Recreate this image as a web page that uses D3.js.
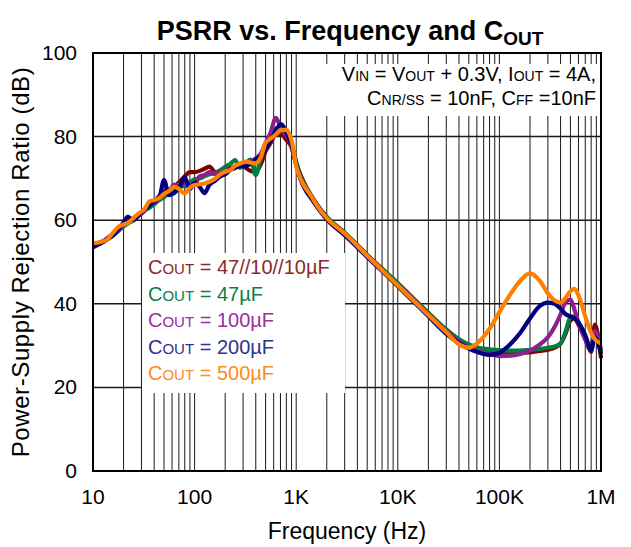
<!DOCTYPE html>
<html lang="en">
<head>
  <meta charset="UTF-8">
  <title>PSRR vs. Frequency and COUT</title>
  <script src="https://d3js.org/d3.v7.min.js"></script>
  <style>
    body { margin: 0; background: #fff; }
    svg { font-family: "Liberation Sans", Arial, sans-serif; }
  </style>
</head>
<body>
  <div id="chart"></div>
  <script>
    // frequency points (Hz), shared by every curve
    const FREQ = [10, 12, 14, 16, 18, 20, 22, 25, 28, 32,
      36, 40, 45, 50, 56, 63, 70, 80, 90, 100,
      112, 125, 140, 160, 180, 200, 225, 250, 280, 315,
      355, 400, 450, 500, 560, 630, 710, 800, 900, 1000,
      1120, 1250, 1400, 1600, 2000, 3000, 5000, 10000, 20000, 30000,
      40000, 50000, 60000, 80000, 100000, 130000, 160000, 200000, 250000, 300000,
      350000, 400000, 450000, 500000, 550000, 600000, 700000, 800000, 870000, 1000000];

    // PSRR (dB)
    const DB_47_10_10 = [54, 54.5, 55.6, 56.8, 57.8, 58.8, 59.6, 60.4, 61.3, 62.5,
      63.5, 64.5, 65.8, 66.8, 67.3, 68, 69, 70.5, 71.5, 71.5,
      71.8, 72.3, 72.8, 71.5, 71.8, 72, 72.5, 72.8, 73.5, 72.6,
      71.8, 71.5, 73.5, 76.5, 78.5, 80.5, 80.5, 79.2, 77.5, 73.5,
      70.5, 68, 66, 63.8, 60.8, 57, 51.7, 44.9, 37.8, 33.8,
      31.4, 30, 29.3, 28.6, 28.3, 28.2, 28.2, 28.4, 28.7, 29,
      29.5, 30.5, 33, 36, 36.5, 35, 31.5, 28.5, 35, 27];
    const DB_47 = [54.2, 54.8, 55.5, 56.5, 57.5, 58.5, 59.2, 60, 61, 62.3,
      63, 63.8, 64.8, 65.5, 66.5, 67.5, 68.5, 68, 69, 69.8,
      70, 70.5, 71, 71.3, 72, 72.8, 73.5, 74.4, 72.5, 73.5,
      74.5, 70.8, 75, 77.5, 79.5, 82, 81.5, 80.5, 78, 74,
      70, 67.8, 65.8, 63.6, 60.6, 56.9, 51.6, 44.8, 37.8, 33.8,
      31.5, 30.3, 29.6, 29.1, 28.9, 28.8, 28.8, 29, 29.2, 29.5,
      29.8, 30.5, 33.5, 36.8, 37, 35.5, 32, 29.5, 33, 28.5];
    const DB_100 = [54, 54.6, 55.8, 56.8, 57.8, 58.8, 59.5, 60.2, 61, 62.2,
      63.8, 64.2, 65.5, 66, 66.8, 68.5, 67.8, 69, 68.6, 68.6,
      70.5, 70.8, 71.5, 71, 71.5, 71.8, 72.2, 72.6, 73.5, 73.6,
      74, 74.8, 76, 78.5, 81, 84.5, 82, 80.5, 77.5, 73.2,
      69.3, 67.2, 65.4, 63.3, 60.3, 56.6, 51.4, 44.5, 37.5, 33.4,
      31, 29.6, 28.8, 28, 27.5, 27.6, 28, 28.8, 30.3, 32,
      34.5, 37.5, 40.5, 41, 38.5, 35.5, 31.5, 29, 33.5, 29];
    const DB_200 = [53.5, 54.5, 55.5, 56.5, 58, 59.5, 60.8, 60, 61.2, 62.5,
      63.5, 64.5, 65.5, 69.6, 66, 66.5, 67.5, 70.2, 67.5, 69,
      68, 66.5, 68.5, 69.5, 70.5, 71, 72, 72.5, 73, 72.8,
      73.5, 74.5, 75.5, 77, 79, 81.5, 83, 81, 78, 73.5,
      69.5, 67, 65.3, 63.2, 60.2, 56.4, 51.2, 44.2, 37, 32.8,
      30.6, 29.3, 28.5, 27.8, 28.3, 30.5, 33, 36.5, 39.5, 40.3,
      40, 38.8, 37.5, 37, 36.5, 35.5, 32.5, 29, 32, 28];
    const DB_500 = [54.5, 54.8, 55.5, 57.2, 58.5, 59, 59.3, 60.5, 61.6, 62.6,
      64.5, 64.8, 65.3, 66.3, 67, 68, 67.5, 66.4, 67.8, 68.4,
      68.6, 68.8, 69.2, 70, 71, 71.6, 72, 73, 73.5, 74,
      73.8, 73.6, 75.2, 78.5, 79.5, 80.5, 81.6, 81.6, 79, 73,
      69.6, 67.5, 65.8, 63.5, 60.5, 56.8, 51.5, 44.4, 37.3, 33.2,
      30.3, 29.5, 30.5, 34, 38, 42.5, 45.5, 47.3, 45.5, 42.5,
      40.8, 40.3, 41.5, 43, 43.6, 42, 37, 33, 31.5, 30.5];

    const SERIES_NAMES = ["47//10//10µF", "47µF", "100µF", "200µF", "500µF"];
    const SERIES_VALUES = [DB_47_10_10, DB_47, DB_100, DB_200, DB_500];
    const COLORS = ["#800000", "#008040", "#8f1f8f", "#000080", "#ff7f00"];
    const TEXT_COLORS = ["#8b2a2a", "#0a7f45", "#9b2e9b", "#2e3192", "#ff8a20"];

    const X_TICKS = [10, 100, 1000, 10000, 100000, 1000000];
    const X_TICK_LABELS = ["10", "100", "1K", "10K", "100K", "1M"];
    const Y_TICKS = [0, 20, 40, 60, 80, 100];

    const W = 631, H = 547;
    const margin = { top: 53, right: 30, bottom: 76, left: 93 };
    const width = W - margin.left - margin.right;
    const height = H - margin.top - margin.bottom;

    const svg = d3.select("#chart")
      .append("svg")
      .attr("width", W)
      .attr("height", H);

    const g = svg.append("g")
      .attr("transform", `translate(${margin.left},${margin.top})`);

    const x = d3.scaleLog().domain([10, 1e6]).range([0, width]);
    const y = d3.scaleLinear().domain([0, 100]).range([height, 0]);

    // grid: every 1..9 x decade
    const minor = [];
    for (let dec = 10; dec < 1e6; dec *= 10) {
      for (let k = 1; k < 10; k++) minor.push(dec * k);
    }
    g.append("g")
      .selectAll("line")
      .data(minor.slice(1))
      .join("line")
      .attr("x1", d => x(d)).attr("x2", d => x(d))
      .attr("y1", 0).attr("y2", height)
      .attr("stroke", "#1a1a1a")
      .attr("stroke-width", 1);

    g.append("g")
      .selectAll("line")
      .data(Y_TICKS.slice(1, -1))
      .join("line")
      .attr("x1", 0).attr("x2", width)
      .attr("y1", d => y(d)).attr("y2", d => y(d))
      .attr("stroke", "#1a1a1a")
      .attr("stroke-width", 1.5);

    // white boxes behind legend and conditions text
    g.append("rect")
      .attr("x", x(1050)).attr("y", 11)
      .attr("width", width - x(1050) - 1).attr("height", 52)
      .attr("fill", "#fff");
    g.append("rect")
      .attr("x", 49).attr("y", 200)
      .attr("width", 203).attr("height", 140)
      .attr("fill", "#fff");

    // curves
    const line = d3.line()
      .x(d => x(d[0]))
      .y(d => y(d[1]))
      .curve(d3.curveMonotoneX);

    SERIES_VALUES.forEach((vals, i) => {
      g.append("path")
        .datum(FREQ.map((f, j) => [f, vals[j]]))
        .attr("fill", "none")
        .attr("stroke", COLORS[i])
        .attr("stroke-width", 4.2)
        .attr("stroke-linejoin", "round")
        .attr("d", line);
    });

    // frame
    g.append("rect")
      .attr("width", width).attr("height", height)
      .attr("fill", "none")
      .attr("stroke", "#000")
      .attr("stroke-width", 2);

    // axes labels
    g.append("g")
      .selectAll("text")
      .data(X_TICKS)
      .join("text")
      .attr("x", d => x(d))
      .attr("y", height + 33)
      .attr("text-anchor", "middle")
      .style("font-size", "21px")
      .text((d, i) => X_TICK_LABELS[i]);

    g.append("g")
      .selectAll("text")
      .data(Y_TICKS)
      .join("text")
      .attr("x", -16)
      .attr("y", d => y(d) + 7)
      .attr("text-anchor", "end")
      .style("font-size", "21px")
      .text(d => d);

    svg.append("text")
      .attr("x", margin.left + width / 2)
      .attr("y", 539)
      .attr("text-anchor", "middle")
      .style("font-size", "23px")
      .text("Frequency (Hz)");

    svg.append("text")
      .attr("transform", `translate(29,${margin.top + height / 2}) rotate(-90)`)
      .attr("text-anchor", "middle")
      .style("font-size", "24px")
      .style("letter-spacing", "0.6px")
      .text("Power-Supply Rejection Ratio (dB)");

    // title
    const title = svg.append("text")
      .attr("x", 350)
      .attr("y", 40)
      .attr("text-anchor", "middle")
      .style("font-size", "27px")
      .style("font-weight", "bold");
    title.append("tspan").text("PSRR vs. Frequency and C");
    title.append("tspan").attr("dy", 5).style("font-size", "19px").text("OUT");

    // conditions text
    const cond1 = svg.append("text")
      .attr("x", 596).attr("y", 81)
      .attr("text-anchor", "end")
      .style("font-size", "20px");
    cond1.append("tspan").text("V");
    cond1.append("tspan").style("font-size", "14px").text("IN");
    cond1.append("tspan").text(" = V");
    cond1.append("tspan").style("font-size", "14px").text("OUT");
    cond1.append("tspan").text(" + 0.3V, I");
    cond1.append("tspan").style("font-size", "14px").text("OUT");
    cond1.append("tspan").text(" = 4A,");

    const cond2 = svg.append("text")
      .attr("x", 596).attr("y", 105)
      .attr("text-anchor", "end")
      .style("font-size", "20px");
    cond2.append("tspan").text("C");
    cond2.append("tspan").style("font-size", "14px").text("NR/SS");
    cond2.append("tspan").text(" = 10nF, C");
    cond2.append("tspan").style("font-size", "14px").text("FF");
    cond2.append("tspan").text(" =10nF");

    // legend
    SERIES_NAMES.forEach((name, i) => {
      const t = svg.append("text")
        .attr("x", 148)
        .attr("y", 274 + i * 26.5)
        .attr("fill", TEXT_COLORS[i])
        .style("font-size", "20px");
      t.append("tspan").text("C");
      t.append("tspan").style("font-size", "15px").text("OUT");
      t.append("tspan").text(" = " + name);
    });
  </script>
</body>
</html>
